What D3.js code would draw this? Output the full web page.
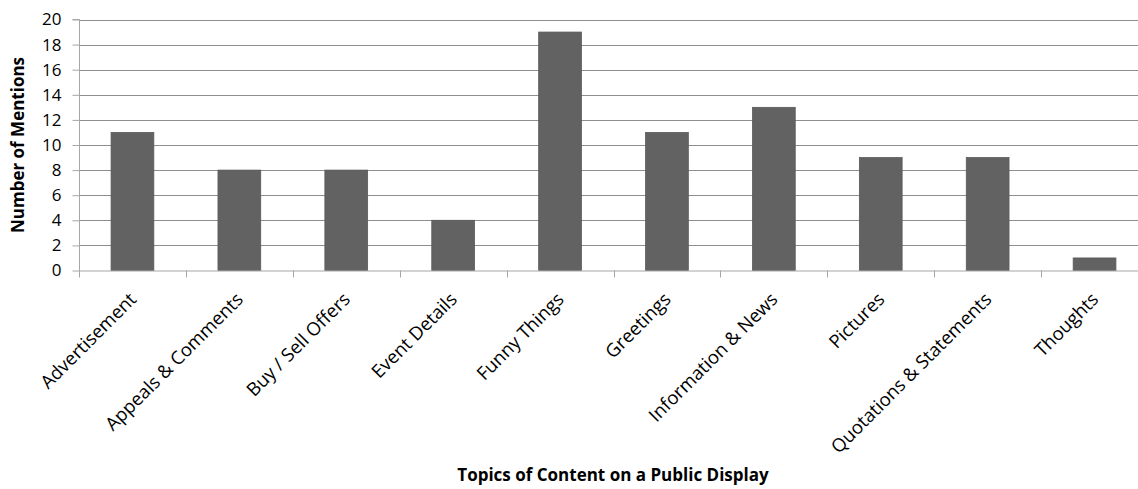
<!DOCTYPE html>
<html>
<head>
<meta charset="utf-8">
<script src="https://cdn.jsdelivr.net/npm/d3@7"></script>
<style>
  html, body { margin: 0; padding: 0; background: #fff; }
  svg { display: block; }
  text { font-family: "Open Sans", "Liberation Sans", sans-serif; fill: #000; }
</style>
</head>
<body>
<svg id="chart" width="1138" height="489"></svg>
<script>
// Topics of content posted on a public display, with number of mentions
const categories = [
  "Advertisement", "Appeals & Comments", "Buy / Sell Offers", "Event Details",
  "Funny Things", "Greetings", "Information & News", "Pictures",
  "Quotations & Statements", "Thoughts"
];
const mentions = [11, 8, 8, 4, 19, 11, 13, 9, 9, 1];
const yTicks = [0, 2, 4, 6, 8, 10, 12, 14, 16, 18, 20];

const svg = d3.select("#chart");
const plotLeft = 79, plotRight = 1148, plotTop = 19.5, plotBottom = 270.5;

const x = d3.scaleBand().domain(categories).range([plotLeft, plotRight]).paddingInner(0).paddingOuter(0);
const y = d3.scaleLinear().domain([0, 20]).range([plotBottom, plotTop]);

// horizontal gridlines
svg.append("g")
  .selectAll("line")
  .data(yTicks.filter(d => d > 0))
  .join("line")
  .attr("x1", plotLeft).attr("x2", 1138)
  .attr("y1", d => Math.round(y(d)) + 0.5).attr("y2", d => Math.round(y(d)) + 0.5)
  .attr("stroke", "#8e8e8e").attr("stroke-width", 1);

// bars
const bw = x.bandwidth() * 0.4;
svg.append("g")
  .selectAll("rect")
  .data(categories)
  .join("rect")
  .attr("x", (d) => x(d) + x.bandwidth() / 2 - bw / 2)
  .attr("width", bw)
  .attr("y", (d, i) => y(mentions[i]))
  .attr("height", (d, i) => y(0) - y(mentions[i]))
  .attr("fill", "#626262")
  .attr("stroke", "#5a5a5a")
  .attr("stroke-width", 0.8);

// y axis
const yAxis = svg.append("g")
  .attr("transform", `translate(${plotLeft + 0.5},0)`)
  .call(d3.axisLeft(y).tickValues(yTicks).tickSize(7).tickPadding(11).tickFormat(d3.format("d")));
yAxis.select(".domain").attr("stroke", "#a6a6a6").attr("d", `M-7,${plotTop}H0V${plotBottom}`);
yAxis.selectAll(".tick line").attr("stroke", "#a6a6a6");
yAxis.selectAll(".tick text").attr("font-size", 17).attr("font-family", "Open Sans").attr("fill", "#000");

// x axis line and ticks at band edges
const xAxis = svg.append("g");
xAxis.append("line")
  .attr("x1", plotLeft).attr("x2", 1138)
  .attr("y1", plotBottom + 0.5).attr("y2", plotBottom + 0.5)
  .attr("stroke", "#a6a6a6");
xAxis.selectAll("line.tk")
  .data(categories)
  .join("line")
  .attr("class", "tk")
  .attr("x1", d => Math.round(x(d)) + 0.5).attr("x2", d => Math.round(x(d)) + 0.5)
  .attr("y1", plotBottom).attr("y2", plotBottom + 7)
  .attr("stroke", "#a6a6a6");

// rotated category labels
xAxis.selectAll("text.cat")
  .data(categories)
  .join("text")
  .attr("class", "cat")
  .attr("font-size", 18.5)
  .attr("text-anchor", "end")
  .attr("transform", d => `translate(${x(d) + x.bandwidth() / 2 + 5},${plotBottom + 30}) rotate(-45)`)
  .text(d => d);

// axis titles
svg.append("text")
  .attr("x", 613).attr("y", 481)
  .attr("text-anchor", "middle")
  .attr("font-size", 17).attr("font-weight", "bold")
  .text("Topics of Content on a Public Display");

svg.append("text")
  .attr("transform", `translate(24,${(plotTop + plotBottom) / 2}) rotate(-90)`)
  .attr("text-anchor", "middle")
  .attr("font-size", 17).attr("font-weight", "bold")
  .text("Number of Mentions");
</script>
</body>
</html>
